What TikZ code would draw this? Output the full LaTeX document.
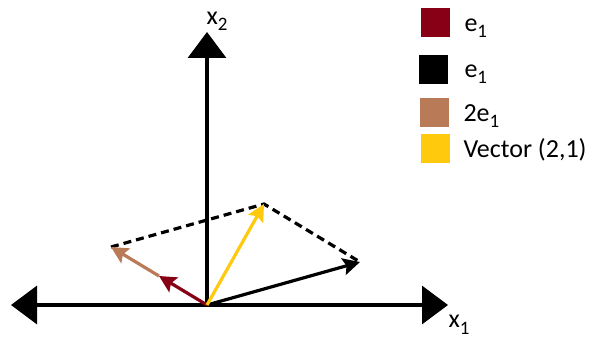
\documentclass[tikz,border=0pt]{standalone}
\usepackage{fontspec}
\setmainfont{Carlito}
\usetikzlibrary{arrows.meta, positioning}
\definecolor{cdred}{HTML}{880015}
\definecolor{cbrown}{HTML}{B97A57}
\definecolor{cyellow}{HTML}{FFC90E}
\newcommand\lowsub[1]{\raisebox{-6pt}{\fontsize{19}{20}\selectfont #1}}
\tikzset{
  every picture/.style={font=\fontsize{26}{30}\selectfont, line width=3pt},
  axis/.style={draw=black, line width=3.2pt},
  vec/.style={draw=#1, -{Stealth[length=17pt, width=17pt, inset=3pt]}, line width=3.2pt},
  vec/.default=black,
  guide/.style={draw=black, dash pattern=on 8pt off 5pt, line width=3.2pt},
  legbox/.style={fill=#1, minimum size=29pt, inner sep=0pt},
  leg/.style={anchor=base west, inner sep=0pt},
}
\begin{document}
\begin{tikzpicture}[x=1pt, y=-1pt, >={Triangle[length=26pt, width=38pt]}]
  \useasboundingbox (0,0) rectangle (595,339);
  % axes
  \coordinate (o) at (207,305);
  \coordinate (xl) at (11,305);
  \coordinate (xr) at (448,305);
  \coordinate (yt) at (207,32);
  \draw[axis, <->] (xl) -- (xr);
  \draw[axis, ->] (o) -- (yt);
  \node[leg] (lx1) at (447,328) {x\lowsub{1}};
  \node[leg] (lx2) at (205,25) {x\lowsub{2}};
  % vectors
  \coordinate (e1) at (159,276);
  \coordinate (ee1) at (111,247);
  \coordinate (e2) at (360,262);
  \coordinate (v) at (264,204);
  \draw[guide] (ee1) -- (v) -- (e2);
  \draw[vec=cbrown] (e1) -- (ee1);
  \draw[vec=cdred] (o) -- (e1);
  \draw[vec] (o) -- (e2);
  \draw[vec=cyellow] (o) -- (v);
  % legend
  \node[legbox=cdred] (k1) at (435,23) {};
  \node[legbox=black] (k2) at (433,70) {};
  \node[legbox=cbrown] (k3) at (434,113) {};
  \node[legbox=cyellow] (k4) at (435,149) {};
  \node[leg] (l1) at (463,32) {e\lowsub{1}};
  \node[leg] (l2) at (463,78) {e\lowsub{1}};
  \node[leg] (l3) at (462,122) {2e\lowsub{1}};
  \node[leg] (l4) at (462,158) {Vector (2,1)};
\end{tikzpicture}
\end{document}
